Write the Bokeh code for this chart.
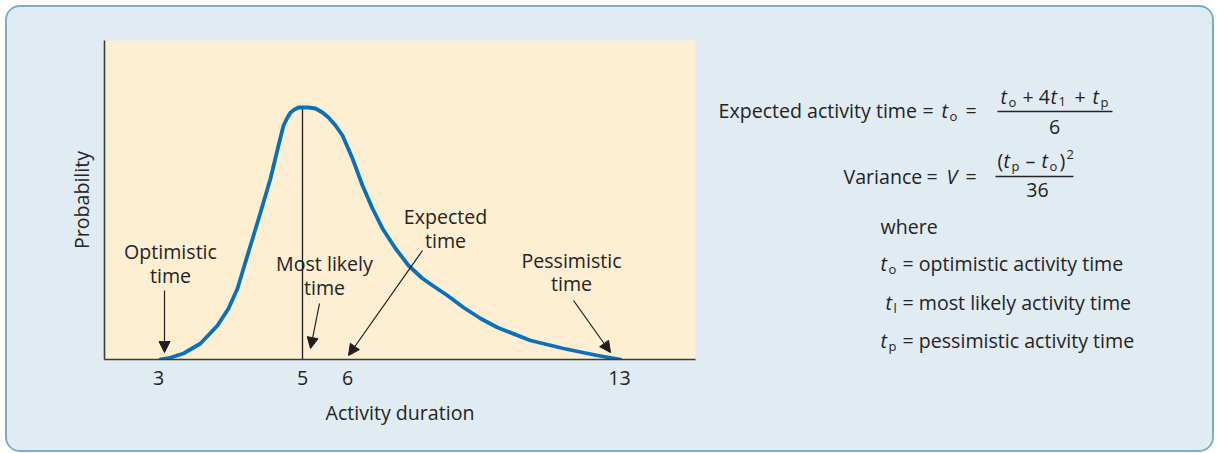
from bokeh.plotting import figure
from bokeh.layouts import row
from bokeh.models import Range1d, FixedTicker, Label, Arrow, NormalHead
from bokeh.embed import file_html
from bokeh.resources import INLINE

# ---------------- data (schematic axis units) ----------------
# horizontal position along the activity-duration axis, and probability height
curve_x = [56, 63, 79, 96, 113, 124, 133, 139, 146, 156, 166, 174, 179, 183, 186, 190, 194,
           198, 204, 211, 218, 224, 231, 238, 248, 258, 268, 278, 291, 304, 318, 331, 343, 359,
           376, 393, 426, 459, 493, 516]
curve_y = [0, 1, 6, 16, 34, 51, 71, 91, 114, 147, 181, 214, 234, 242, 247, 250, 252,
           252, 252, 251, 247, 242, 234, 224, 201, 174, 151, 131, 111, 94, 81, 72, 64, 52,
           41, 32, 19, 11, 4, 0]

tick_positions = [54, 198, 243, 515]
tick_labels = ["3", "5", "6", "13"]

most_likely_pos = 198
peak_height = 252

# callout labels
callout_text = [("Optimistic", "time"), ("Most likely", "time"),
                ("Expected", "time"), ("Pessimistic", "time")]
callout_x = [66, 220, 341, 467]
callout_y1 = [108, 96, 143, 99]
callout_y2 = [84, 72, 119, 76]
# arrows: start -> end
arrow_x0 = [60, 215, 318, 469]
arrow_y0 = [69, 56, 109, 59]
arrow_x1 = [60, 206, 244, 506]
arrow_y1 = [7, 11, 4, 7]

TEXT = "#262324"
FONT = "Open Sans"
FS = "19.6px"
SUB = "13px"
BG = "#e0ebf2"

p = figure(title=None, frame_width=591, frame_height=319,
           min_border_left=97, min_border_right=10,
           min_border_top=33, min_border_bottom=91,
           x_range=Range1d(0, 591), y_range=Range1d(0, 319),
           output_backend="svg", toolbar_location=None, align="start")

p.border_fill_color = BG
p.background_fill_color = "#feeed2"
p.outline_line_color = None
p.xgrid.visible = False
p.ygrid.visible = False

for ax in (p.xaxis[0], p.yaxis[0]):
    ax.axis_line_color = "#3c3c3c"
    ax.axis_line_width = 1.6
    ax.major_tick_line_color = None
    ax.minor_tick_line_color = None
    ax.axis_label_text_font = FONT
    ax.axis_label_text_font_size = FS
    ax.axis_label_text_font_style = "normal"
    ax.axis_label_text_color = TEXT
    ax.major_label_text_font = FONT
    ax.major_label_text_font_size = FS
    ax.major_label_text_color = TEXT

p.xaxis.ticker = FixedTicker(ticks=tick_positions)
p.xaxis.major_label_overrides = {pos: lab for pos, lab in zip(tick_positions, tick_labels)}
p.xaxis.major_label_standoff = 5
p.xaxis.axis_label = "Activity duration"
p.xaxis.axis_label_standoff = 11

p.yaxis.ticker = FixedTicker(ticks=[])
p.yaxis.axis_label = "Probability"
p.yaxis.axis_label_standoff = 10

# most likely vertical line
p.segment(x0=[most_likely_pos], y0=[0], x1=[most_likely_pos], y1=[peak_height],
          line_color="#1e1e1e", line_width=1.3)

# beta curve
p.line(curve_x, curve_y, line_color="#0a71b9", line_width=3.8,
       line_join="round", line_cap="round")

# callouts
for (l1, l2), x, y1, y2 in zip(callout_text, callout_x, callout_y1, callout_y2):
    for txt, yy in ((l1, y1), (l2, y2)):
        p.add_layout(Label(x=x, y=yy, text=txt, text_align="center",
                           text_baseline="middle", text_font=FONT,
                           text_font_size=FS, text_color=TEXT))
for x0, y0, x1, y1 in zip(arrow_x0, arrow_y0, arrow_x1, arrow_y1):
    p.add_layout(Arrow(end=NormalHead(size=11, fill_color="#1e1e1e", line_color="#1e1e1e"),
                       x_start=x0, y_start=y0, x_end=x1, y_end=y1,
                       line_color="#1e1e1e", line_width=1.2))

# ---------------- formula panel (positions in page pixels, y downwards) ----------------
q = figure(title=None, frame_width=507, frame_height=443, min_border=0,
           x_range=Range1d(705, 1212), y_range=Range1d(484, 41),
           x_axis_type=None, y_axis_type=None,
           output_backend="svg", toolbar_location=None, align="start")
q.border_fill_color = BG
q.background_fill_color = BG
q.outline_line_color = None
q.xgrid.visible = False
q.ygrid.visible = False


def seg(text, px, py, size=FS, italic=False, align="left"):
    q.add_layout(Label(x=px, y=py, text=text, text_align=align,
                       text_baseline="middle", text_font=FONT,
                       text_font_size=size,
                       text_font_style="italic" if italic else "normal",
                       text_color=TEXT))


def bar(x0, x1, py):
    q.segment(x0=[x0], y0=[py], x1=[x1], y1=[py], line_color=TEXT, line_width=1.3)


# Expected activity time
seg("Expected activity time", 718, 111)
seg("=", 922, 111)
seg("t", 941, 111, italic=True)
seg("o", 949, 116, SUB)
seg("=", 965, 111)
seg("t", 1000, 97, italic=True)
seg("o", 1008, 102, SUB)
seg("+ 4", 1022, 97)
seg("t", 1050, 97, italic=True)
seg("1", 1058, 102, SUB)
seg("+", 1074, 97)
seg("t", 1092, 97, italic=True)
seg("p", 1100, 102, SUB)
bar(997, 1112, 112)
seg("6", 1054, 127, align="center")

# Variance
seg("Variance", 843, 177)
seg("=", 926, 177)
seg("V", 946, 177, italic=True)
seg("=", 965, 177)
seg("(", 997, 161)
seg("t", 1003, 161, italic=True)
seg("p", 1011, 166, SUB)
seg("\u2013", 1025, 161)
seg("t", 1041, 161, italic=True)
seg("o", 1049, 166, SUB)
seg(")", 1059, 161)
seg("2", 1066, 155, SUB)
bar(995, 1073, 177)
seg("36", 1037, 190, align="center")

# definitions
seg("where", 880, 227)
seg("t", 880, 264, italic=True)
seg("o", 888, 269, SUB)
seg("= optimistic activity time", 902, 264)
seg("t", 885, 303, italic=True)
seg("l", 893, 308, SUB)
seg("= most likely activity time", 902, 303)
seg("t", 880, 341, italic=True)
seg("p", 888, 346, SUB)
seg("= pessimistic activity time", 902, 341)

layout = row(p, q)
layout.styles = {"border": "2px solid #7aabc7", "border-radius": "15px",
                 "overflow": "hidden", "background-color": BG,
                 "margin": "5px 0 0 5px", "align-items": "flex-start"}

open("out.html", "w").write(file_html(layout, INLINE))
